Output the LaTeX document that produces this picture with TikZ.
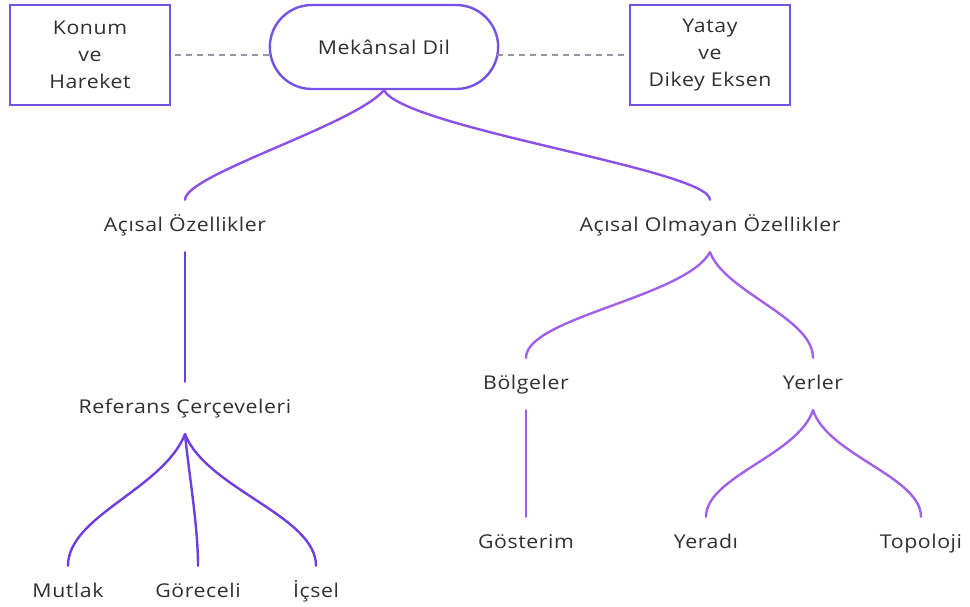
\documentclass[tikz,border=0pt]{standalone}
\usepackage{fontspec}
\setmainfont{Open Sans}[FakeStretch=1.12,LetterSpace=3]
\usetikzlibrary{shapes.misc}
\definecolor{txt}{RGB}{48,48,52}
\definecolor{boxc}{RGB}{118,82,228}
\definecolor{topc}{RGB}{140,80,232}
\definecolor{leftc}{RGB}{112,62,224}
\definecolor{rightc}{RGB}{160,96,234}
\definecolor{dashc}{RGB}{150,150,162}
\tikzset{
  lbl/.style={inner sep=0pt, minimum height=52pt, text height=14pt, text depth=4pt, text=txt, font=\fontsize{19}{27}\selectfont},
  sqbox/.style={draw=boxc, line width=2.4pt, minimum width=160pt, minimum height=100pt, align=center, text=txt, inner sep=0pt, font=\fontsize{19}{27}\selectfont},
  pill/.style={draw=boxc, line width=2.4pt, rounded rectangle, minimum width=235pt, minimum height=84pt, text=txt, font=\fontsize{19}{27}\selectfont},
  conn/.style={line width=2.4pt, line cap=round},
  dashln/.style={dashc, line width=1.2pt, dash pattern=on 6pt off 5pt}
}
\begin{document}
\begin{tikzpicture}[x=1pt,y=-1pt]
\useasboundingbox (0,0) rectangle (970,607);
\fill[white] (0,0) rectangle (970,607);
% top row
\node[sqbox] (kh) at (90,55) {Konum\\ve\\Hareket};
\node[pill] (md) at (384,47) {Mekânsal Dil};
\node[sqbox] (yd) at (710,55) {Yatay\\ve\\Dikey Eksen};
\draw[dashln] ([xshift=4pt]kh.east) -- ([xshift=2pt]md.west |- kh.east);
\draw[dashln] ([xshift=-2pt]md.east |- yd.west) -- ([xshift=-4pt]yd.west);
% level 1
\node[lbl] (ao) at (185,226) {Açısal Özellikler};
\node[lbl] (aoo) at (710,226) {Açısal Olmayan Özellikler};
\draw[conn, topc] (md.south) .. controls +(-30,35) and +(0,-25) .. (ao.north);
\draw[conn, topc] (md.south) .. controls +(20,38) and +(0,-30) .. (aoo.north);
% left subtree
\node[lbl] (rc) at (185,408) {Referans Çerçeveleri};
\draw[conn, leftc] (ao.south) -- (rc.north);
\node[lbl] (mu) at (68,592) {Mutlak};
\node[lbl] (go) at (198,592) {Göreceli};
\node[lbl] (ic) at (316,592) {İçsel};
\draw[conn, leftc] (rc.south) .. controls +(-22,55) and +(0,-50) .. (mu.north);
\draw[conn, leftc] (rc.south) .. controls +(4,40) and +(0,-40) .. (go.north);
\draw[conn, leftc] (rc.south) .. controls +(22,55) and +(0,-50) .. (ic.north);
% right subtree
\node[lbl] (bo) at (526,384) {Bölgeler};
\node[lbl] (ye) at (813,384) {Yerler};
\draw[conn, rightc] (aoo.south) .. controls +(-25,45) and +(0,-40) .. (bo.north);
\draw[conn, rightc] (aoo.south) .. controls +(15,40) and +(0,-40) .. (ye.north);
\node[lbl] (gs) at (526,543) {Gösterim};
\draw[conn, rightc] (bo.south) -- (gs.north);
\node[lbl] (yr) at (706,543) {Yeradı};
\node[lbl] (tp) at (921,543) {Topoloji};
\draw[conn, rightc] (ye.south) .. controls +(-15,45) and +(0,-40) .. (yr.north);
\draw[conn, rightc] (ye.south) .. controls +(15,45) and +(0,-40) .. (tp.north);
\end{tikzpicture}
\end{document}
